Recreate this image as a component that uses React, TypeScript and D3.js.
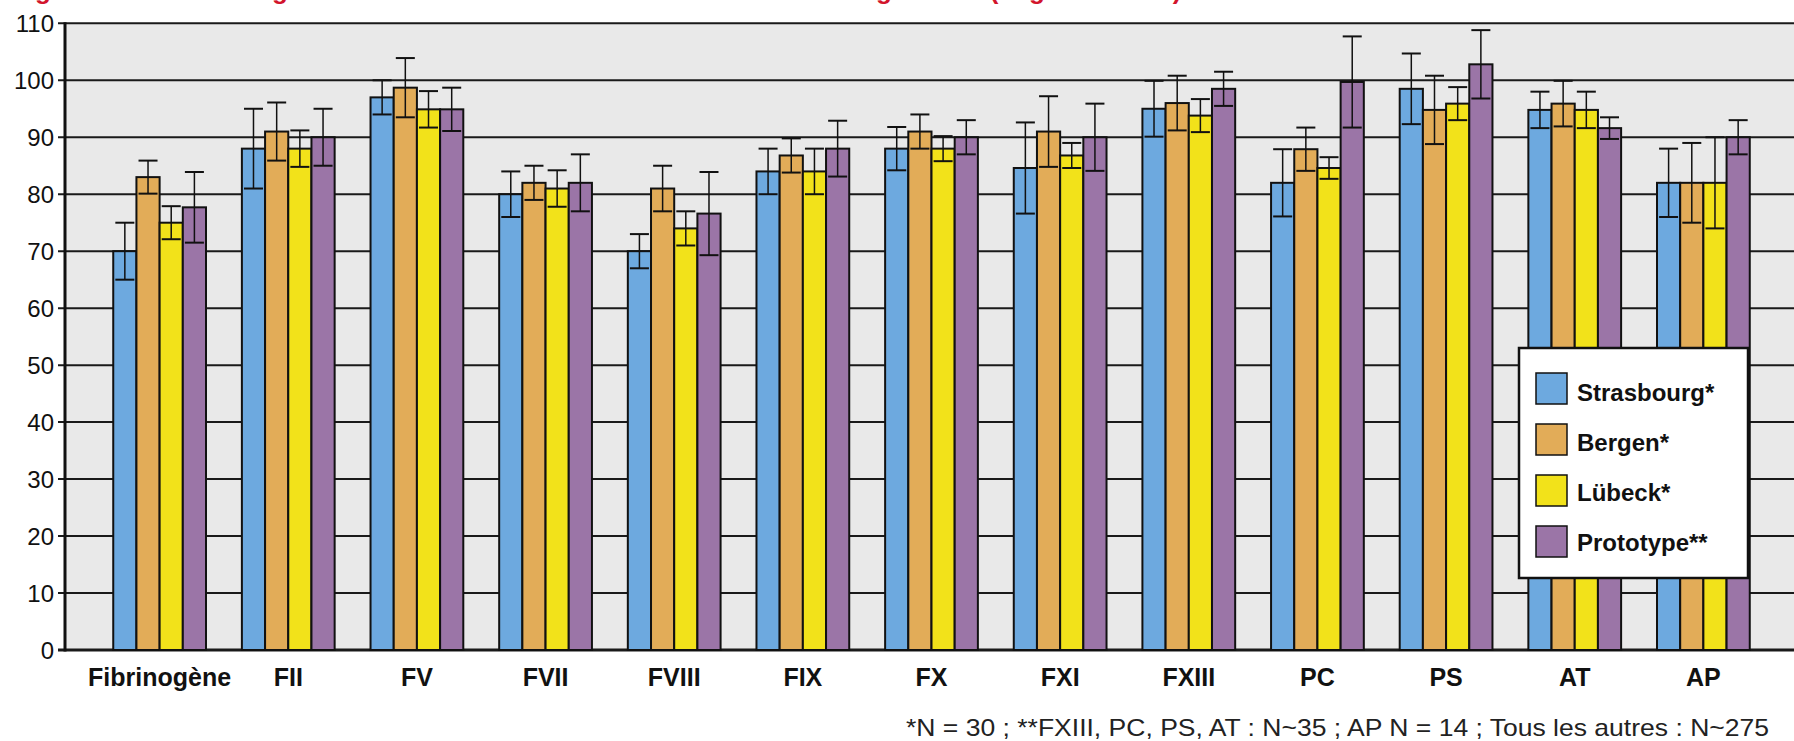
import React from "react";
import * as d3 from "d3";

const categories = ["Fibrinogène", "FII", "FV", "FVII", "FVIII", "FIX", "FX", "FXI", "FXIII", "PC", "PS", "AT", "AP"];
const seriesNames = ["Strasbourg*", "Bergen*", "Lübeck*", "Prototype**"];
const seriesColors = ["#6DA9DF", "#E2AC58", "#F2E21A", "#9B75A7"];

const strasbourg = [70, 88, 97, 80, 70, 84, 88, 84.6, 95, 82, 98.5, 94.8, 82];
const strasbourgErr = [5, 7, 3, 4, 3, 4, 3.8, 8, 4.9, 5.9, 6.2, 3.2, 6];
const bergen = [83, 91, 98.7, 82, 81, 86.8, 91, 91, 96, 87.9, 94.8, 95.9, 82];
const bergenErr = [2.9, 5.1, 5.2, 3, 4, 3, 3, 6.2, 4.8, 3.8, 6, 4, 7];
const lubeck = [75, 88, 94.9, 81, 74, 84, 88, 86.8, 93.8, 84.6, 95.9, 94.8, 82];
const lubeckErr = [2.9, 3.2, 3.2, 3.2, 3, 4, 2.2, 2.2, 2.9, 1.9, 2.9, 3.2, 8];
const prototype = [77.7, 90, 94.9, 82, 76.6, 88, 90, 90, 98.5, 99.7, 102.8, 91.6, 90];
const prototypeErr = [6.2, 5, 3.8, 5, 7.3, 4.9, 3, 5.9, 3, 8, 6, 1.9, 3];

const yTicks = [0, 10, 20, 30, 40, 50, 60, 70, 80, 90, 100, 110];
const footnote = "*N = 30 ; **FXIII, PC, PS, AT : N~35 ; AP N = 14 ; Tous les autres : N~275";
const titleGlyphs = ["g", "g", "g", "(", "g", ")"];
const titleGlyphX = [43, 280, 884, 994, 1037, 1177];

const values = [strasbourg, bergen, lubeck, prototype];
const errors = [strasbourgErr, bergenErr, lubeckErr, prototypeErr];

const W = 1794;
const H = 741;
const left = 65;
const right = 1798;
const top = 23.3;
const bottom = 650;

export default function App() {
  const x = d3.scaleBand<string>().domain(categories).range([left, right]).paddingInner(0.279).paddingOuter(0.375);
  const xs = d3.scaleBand<string>().domain(seriesNames).range([0, x.bandwidth()]).padding(0);
  const y = d3.scaleLinear().domain([0, 110]).range([bottom, top]);
  const bw = xs.bandwidth();
  const cap = bw * 0.82;
  const font = "'Liberation Sans', Arial, Helvetica, sans-serif";

  return (
    <div style={{ position: "absolute", left: 0, top: 0 }}>
      <svg width={W} height={H} style={{ display: "block" }} fontFamily={font}>
        <rect x={0} y={0} width={W} height={H} fill="#ffffff" />
        {titleGlyphs.map((g, i) => (
          <text key={"t" + i} x={titleGlyphX[i]} y={-1} textAnchor="middle" fontSize={26} fontWeight="bold" fill="#D2142C">
            {g}
          </text>
        ))}
        <rect x={left} y={top} width={W - left} height={bottom - top} fill="#E9E9E9" />
        {yTicks.map((t) => (
          <g key={"g" + t}>
            <line x1={left - 7} x2={W} y1={y(t)} y2={y(t)} stroke="#1a1a1a" strokeWidth={t === 0 ? 3 : 2} />
            <text x={54} y={y(t)} dy="0.36em" textAnchor="end" fontSize={24} fill="#111">
              {t}
            </text>
          </g>
        ))}
        <line x1={left} x2={left} y1={top - 1} y2={bottom + 1.5} stroke="#111" strokeWidth={3} />
        {categories.map((c, ci) => (
          <g key={c}>
            {seriesNames.map((s, si) => {
              const v = values[si][ci];
              const bx = (x(c) as number) + (xs(s) as number);
              return (
                <rect key={s} x={bx} y={y(v)} width={bw} height={bottom - y(v)} fill={seriesColors[si]} stroke="#111" strokeWidth={2} />
              );
            })}
            {seriesNames.map((s, si) => {
              const v = values[si][ci];
              const e = errors[si][ci];
              const cx = (x(c) as number) + (xs(s) as number) + bw / 2;
              return (
                <g key={"e" + s} stroke="#111">
                  <line x1={cx} x2={cx} y1={y(v + e)} y2={y(v - e)} strokeWidth={1.5} />
                  <line x1={cx - cap / 2} x2={cx + cap / 2} y1={y(v + e)} y2={y(v + e)} strokeWidth={2} />
                  <line x1={cx - cap / 2} x2={cx + cap / 2} y1={y(v - e)} y2={y(v - e)} strokeWidth={2} />
                </g>
              );
            })}
            <text x={(x(c) as number) + x.bandwidth() / 2} y={686} textAnchor="middle" fontSize={25} fontWeight="bold" fill="#111">
              {c}
            </text>
          </g>
        ))}
        <g>
          <rect x={1519} y={348} width={229} height={230} fill="#ffffff" stroke="#111" strokeWidth={2.5} />
          {seriesNames.map((s, si) => (
            <g key={"l" + s}>
              <rect x={1536} y={373 + si * 51} width={31} height={31} fill={seriesColors[si]} stroke="#111" strokeWidth={1.5} />
              <text x={1577} y={400.5 + si * 50.3} fontSize={24} fontWeight="bold" fill="#111">
                {s}
              </text>
            </g>
          ))}
        </g>
        <text x={906} y={736} fontSize={24} fill="#222" textLength={863} lengthAdjust="spacingAndGlyphs">
          {footnote}
        </text>
      </svg>
    </div>
  );
}
